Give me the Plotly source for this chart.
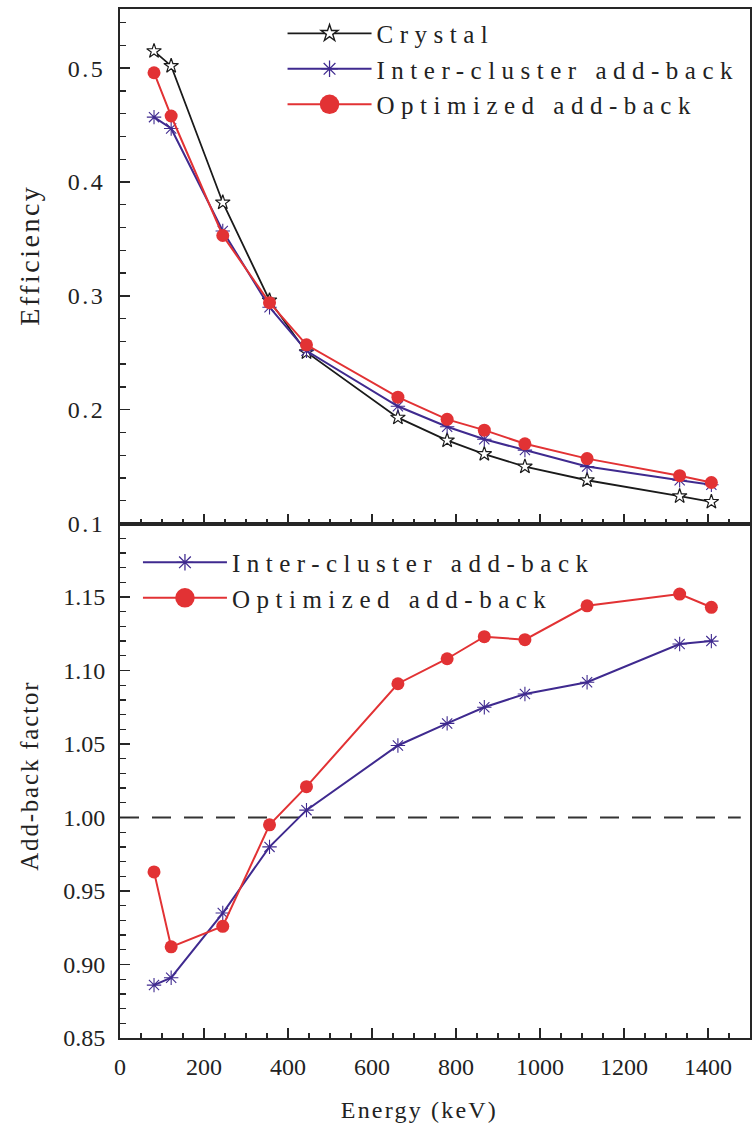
import plotly.graph_objects as go

# Gamma-ray energies (keV) of the calibration lines
energy_kev = [81.0, 121.8, 244.7, 356.0, 444.0, 661.7, 778.9, 867.4, 964.1, 1112.1, 1332.5, 1408.0]

# Full-energy peak efficiency
eff_crystal = [0.515, 0.502, 0.382, 0.296, 0.2505, 0.193, 0.173, 0.161, 0.150, 0.138, 0.124, 0.119]
eff_inter = [0.457, 0.447, 0.357, 0.290, 0.2517, 0.203, 0.185, 0.174, 0.1645, 0.150, 0.138, 0.134]
eff_optim = [0.496, 0.458, 0.353, 0.294, 0.257, 0.211, 0.1915, 0.182, 0.170, 0.157, 0.142, 0.136]

# Add-back factor relative to single-crystal efficiency
factor_inter = [0.886, 0.891, 0.935, 0.980, 1.005, 1.049, 1.064, 1.075, 1.084, 1.092, 1.118, 1.120]
factor_optim = [0.963, 0.912, 0.926, 0.995, 1.021, 1.091, 1.108, 1.123, 1.121, 1.144, 1.152, 1.143]

# Axis ticks
x_ticks = [0, 200, 400, 600, 800, 1000, 1200, 1400]
eff_ticks = [0.1, 0.2, 0.3, 0.4, 0.5]
factor_ticks = [0.85, 0.90, 0.95, 1.00, 1.05, 1.10, 1.15]
reference_level = 1.0
reference_span = [0, 1478]

BLACK = "#1a1a1a"
PURPLE = "#3f2a8f"
RED = "#e23234"
AXIS = "#262626"
TEXT = "#222222"
FONT = "Liberation Serif"

fig = go.Figure()

# --- upper panel: efficiency ---
fig.add_trace(go.Scatter(
    x=energy_kev, y=eff_crystal, name="Crystal", mode="lines+markers",
    line=dict(color=BLACK, width=1.8),
    marker=dict(symbol="star", size=11, color="white", line=dict(color=BLACK, width=1.2)),
    xaxis="x", yaxis="y", legend="legend"))
fig.add_trace(go.Scatter(
    x=energy_kev, y=eff_inter, name="Inter-cluster add-back", mode="lines+markers",
    line=dict(color=PURPLE, width=2),
    marker=dict(symbol="asterisk-open", size=12, color=PURPLE, line=dict(color=PURPLE, width=1.1)),
    xaxis="x", yaxis="y", legend="legend"))
fig.add_trace(go.Scatter(
    x=energy_kev, y=eff_optim, name="Optimized add-back", mode="lines+markers",
    line=dict(color=RED, width=2),
    marker=dict(symbol="circle", size=13, color=RED),
    xaxis="x", yaxis="y", legend="legend"))

# --- lower panel: add-back factor ---
fig.add_trace(go.Scatter(
    x=energy_kev, y=factor_inter, name="Inter-cluster add-back", mode="lines+markers",
    line=dict(color=PURPLE, width=2),
    marker=dict(symbol="asterisk-open", size=12, color=PURPLE, line=dict(color=PURPLE, width=1.1)),
    xaxis="x2", yaxis="y2", legend="legend2"))
fig.add_trace(go.Scatter(
    x=energy_kev, y=factor_optim, name="Optimized add-back", mode="lines+markers",
    line=dict(color=RED, width=2),
    marker=dict(symbol="circle", size=13, color=RED),
    xaxis="x2", yaxis="y2", legend="legend2"))

# dashed unity line
fig.add_shape(type="line", xref="x2", yref="y2",
              x0=reference_span[0], x1=reference_span[1],
              y0=reference_level, y1=reference_level,
              line=dict(color="#333333", width=2, dash="19px,13px"), layer="below")

tick_font = dict(family=FONT, size=24, color=TEXT)

common_axis = dict(
    showline=True, linecolor=AXIS, linewidth=2, mirror=True,
    ticks="inside", ticklen=10, tickwidth=1.6, tickcolor=AXIS,
    showgrid=False, zeroline=False, tickfont=tick_font,
)

legend_font = dict(family=FONT, size=25, color=TEXT)

fig.update_layout(
    width=756, height=1129,
    margin=dict(l=120, r=4, t=9, b=91),
    paper_bgcolor="white", plot_bgcolor="white",
    font=dict(family=FONT, size=24, color=TEXT),
    showlegend=True,
    xaxis=dict(common_axis, domain=[0, 1], anchor="y", range=[0, 1500],
               tickmode="array", tickvals=x_ticks, showticklabels=False,
               minor=dict(tickmode="linear", tick0=0, dtick=50, ticks="inside",
                          ticklen=5, tickwidth=1.4, tickcolor=AXIS)),
    yaxis=dict(common_axis, domain=[0.5, 1], anchor="x", range=[0.1, 0.552],
               tickmode="array", tickvals=eff_ticks,
               ticktext=[f"{v:.1f}" for v in eff_ticks], ticklabelstandoff=8,
               minor=dict(tickmode="linear", tick0=0.1, dtick=0.02, ticks="inside",
                          ticklen=6, tickwidth=1.4, tickcolor=AXIS)),
    xaxis2=dict(common_axis, domain=[0, 1], anchor="y2", range=[0, 1500],
                tickmode="array", tickvals=x_ticks, ticklabelstandoff=6,
                minor=dict(tickmode="linear", tick0=0, dtick=50, ticks="inside",
                           ticklen=5, tickwidth=1.4, tickcolor=AXIS)),
    yaxis2=dict(common_axis, domain=[0, 0.5], anchor="x2", range=[0.85, 1.2],
                tickmode="array", tickvals=factor_ticks,
                ticktext=[f"{v:.2f}" for v in factor_ticks], ticklabelstandoff=8,
                minor=dict(tickmode="linear", tick0=0.85, dtick=0.01, ticks="inside",
                           ticklen=6, tickwidth=1.4, tickcolor=AXIS)),
    legend=dict(x=0.258, y=0.9985, xanchor="left", yanchor="top",
                bgcolor="rgba(0,0,0,0)", borderwidth=0, itemwidth=84,
                font=legend_font, itemclick=False, itemdoubleclick=False),
    legend2=dict(x=0.0285, y=0.4844, xanchor="left", yanchor="top",
                 bgcolor="rgba(0,0,0,0)", borderwidth=0, itemwidth=84,
                 font=legend_font, itemclick=False, itemdoubleclick=False),
    annotations=[
        dict(text="Efficiency", xref="paper", yref="paper", x=-0.1424, y=0.761,
             xanchor="center", yanchor="middle", textangle=-90, showarrow=False,
             font=dict(family=FONT, size=28, color=TEXT)),
        dict(text="Add-back factor", xref="paper", yref="paper", x=-0.1424, y=0.2556,
             xanchor="center", yanchor="middle", textangle=-90, showarrow=False,
             font=dict(family=FONT, size=25, color=TEXT)),
        dict(text="Energy (keV)", xref="paper", yref="paper", x=0.476, y=-0.07,
             xanchor="center", yanchor="middle", showarrow=False,
             font=dict(family=FONT, size=24, color=TEXT)),
    ],
)

# Wide letter spacing for the serif labels, unclipped legends, larger legend symbols
post_js = """
var gd = document.getElementById('{plot_id}');
var legendNames = ['Crystal', 'Inter-cluster add-back', 'Optimized add-back'];
var titleSpacing = {'Efficiency': 2.5, 'Add-back factor': 1.8, 'Energy (keV)': 2.2};
function restyleText() {
  gd.querySelectorAll('text').forEach(function (t) {
    var s = t.textContent;
    if (legendNames.indexOf(s) >= 0) {
      t.style.letterSpacing = '6.5px';
    } else if (titleSpacing[s] !== undefined) {
      t.style.letterSpacing = titleSpacing[s] + 'px';
    } else if (t.closest('.xtick') || t.closest('.ytick')) {
      t.style.letterSpacing = '2.5px';
    }
  });
  gd.querySelectorAll('[clip-path]').forEach(function (g) {
    var c = g.getAttribute('class') || '';
    if (c.indexOf('scrollbox') >= 0 || (g.closest && g.closest('[class*="legend"]'))) {
      g.removeAttribute('clip-path');
    }
  });
  gd.querySelectorAll('.legendpoints path').forEach(function (p) {
    var tr = p.getAttribute('transform') || '';
    var m = tr.match(/translate\\([^)]*\\)/);
    var d = p.getAttribute('d') || '';
    var s = d.indexOf('A') >= 0 ? 1.5 : 1.15;
    p.setAttribute('transform', (m ? m[0] : '') + ' scale(' + s + ')');
  });
}
restyleText();
if (gd.on) { gd.on('plotly_afterplot', restyleText); }
setTimeout(restyleText, 30);
setTimeout(restyleText, 200);
setTimeout(restyleText, 800);
"""

fig.write_html("out.html", post_script=post_js,
               config={"displayModeBar": False, "staticPlot": True})
